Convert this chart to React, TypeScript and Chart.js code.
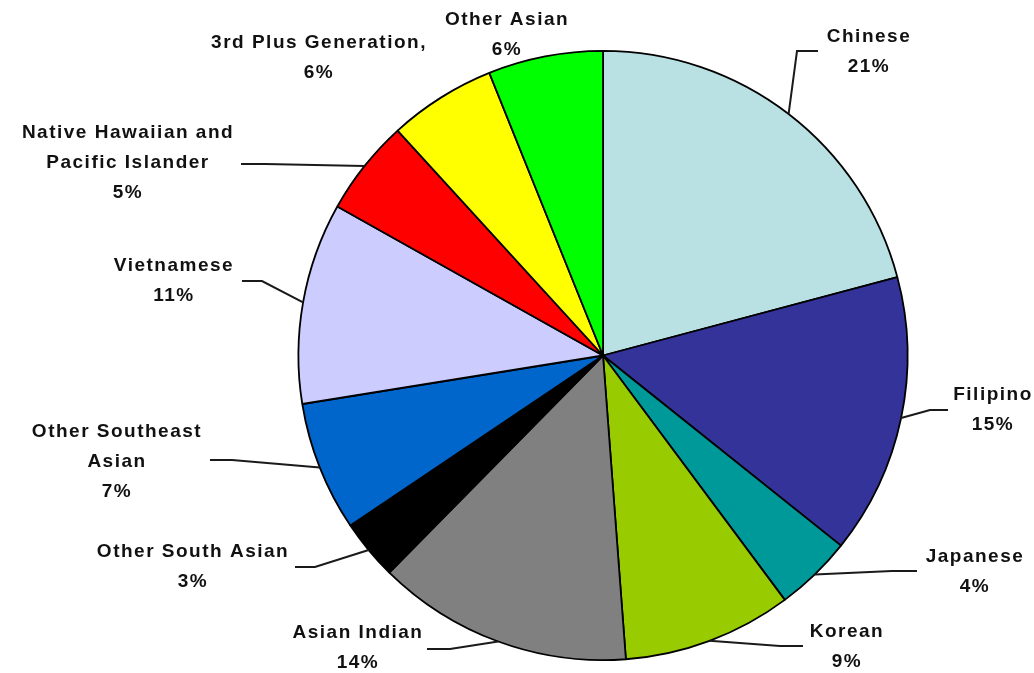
import React, { useEffect, useRef } from "react";
import { Chart, registerables } from "chart.js";

Chart.register(...registerables);

const categories = [
  "Chinese",
  "Filipino",
  "Japanese",
  "Korean",
  "Asian Indian",
  "Other South Asian",
  "Other Southeast Asian",
  "Vietnamese",
  "Native Hawaiian and Pacific Islander",
  "3rd Plus Generation,",
  "Other Asian",
];

const values = [20.9, 14.9, 4.1, 9.0, 13.6, 3.2, 6.9, 10.7, 5.1, 5.7, 6.1];

const percentLabels = ["21%", "15%", "4%", "9%", "14%", "3%", "7%", "11%", "5%", "6%", "6%"];

const labelLines = [
  ["Chinese"],
  ["Filipino"],
  ["Japanese"],
  ["Korean"],
  ["Asian Indian"],
  ["Other South Asian"],
  ["Other Southeast", "Asian"],
  ["Vietnamese"],
  ["Native Hawaiian and", "Pacific Islander"],
  ["3rd Plus Generation,"],
  ["Other Asian"],
];

const colors = [
  "#B9E0E3",
  "#333399",
  "#009999",
  "#99CC00",
  "#808080",
  "#000000",
  "#0066CC",
  "#CCCCFF",
  "#FF0000",
  "#FFFF00",
  "#00FF00",
];

// Label placement (text centre x, first-line centre y, leader elbow and end)
type LabelPos = { x: number; y: number; elbow?: [number, number]; end?: [number, number] };
const labelLayout: LabelPos[] = [
  { x: 868, y: 37, elbow: [797, 51], end: [818, 51] },
  { x: 992, y: 395, elbow: [930, 410], end: [948, 410] },
  { x: 974, y: 557, elbow: [892, 571], end: [917, 571] },
  { x: 846, y: 632, elbow: [780, 646], end: [803, 646] },
  { x: 357, y: 633, elbow: [450, 649], end: [427, 649] },
  { x: 192, y: 552, elbow: [315, 567], end: [295, 567] },
  { x: 116, y: 432, elbow: [232, 460], end: [210, 460] },
  { x: 173, y: 266, elbow: [262, 281], end: [242, 281] },
  { x: 127, y: 133, elbow: [265, 164], end: [241, 164] },
  { x: 318, y: 43 },
  { x: 506, y: 20 },
];

const LINE_H = 30;

const labelPlugin = {
  id: "pieLabels",
  afterDatasetsDraw(chart: any) {
    const ctx = chart.ctx as CanvasRenderingContext2D;
    const meta = chart.getDatasetMeta(0);
    ctx.save();
    meta.data.forEach((arc: any, i: number) => {
      const pos = labelLayout[i];
      const { x, y, startAngle, endAngle, outerRadius } = arc.getProps(
        ["x", "y", "startAngle", "endAngle", "outerRadius"],
        true
      );
      if (pos.elbow && pos.end) {
        const mid = (startAngle + endAngle) / 2;
        const ex = x + Math.cos(mid) * outerRadius;
        const ey = y + Math.sin(mid) * outerRadius;
        ctx.beginPath();
        ctx.strokeStyle = "#1a1a1a";
        ctx.lineWidth = 2;
        ctx.moveTo(ex, ey);
        ctx.lineTo(pos.elbow[0], pos.elbow[1]);
        ctx.lineTo(pos.end[0], pos.end[1]);
        ctx.stroke();
      }
      const lines = [...labelLines[i], percentLabels[i]];
      ctx.fillStyle = "#111";
      ctx.font = "bold 19px 'Liberation Sans', Arial, sans-serif";
      (ctx as any).letterSpacing = "1.5px";
      ctx.textAlign = "center";
      ctx.textBaseline = "middle";
      lines.forEach((t, k) => {
        ctx.fillText(t, pos.x + 1, pos.y + k * LINE_H);
      });
    });
    ctx.restore();
  },
};

export default function App() {
  const ref = useRef<HTMLCanvasElement | null>(null);
  useEffect(() => {
    if (!ref.current) return;
    const chart = new Chart(ref.current, {
      type: "pie",
      data: {
        labels: categories,
        datasets: [
          {
            data: values,
            backgroundColor: colors,
            borderColor: "#000",
            borderWidth: 1.8,
          },
        ],
      },
      options: {
        responsive: false,
        animation: false,
        devicePixelRatio: 1,
        layout: { padding: { left: 290, right: 118, top: 50, bottom: 12 } },
        plugins: {
          legend: { display: false },
          tooltip: { enabled: false },
        },
      },
      plugins: [labelPlugin],
    });
    return () => chart.destroy();
  }, []);
  return (
    <div style={{ position: "fixed", left: 0, top: 0, width: 1034, height: 673, background: "#fff" }}>
      <canvas ref={ref} width={1034} height={673} />
    </div>
  );
}
